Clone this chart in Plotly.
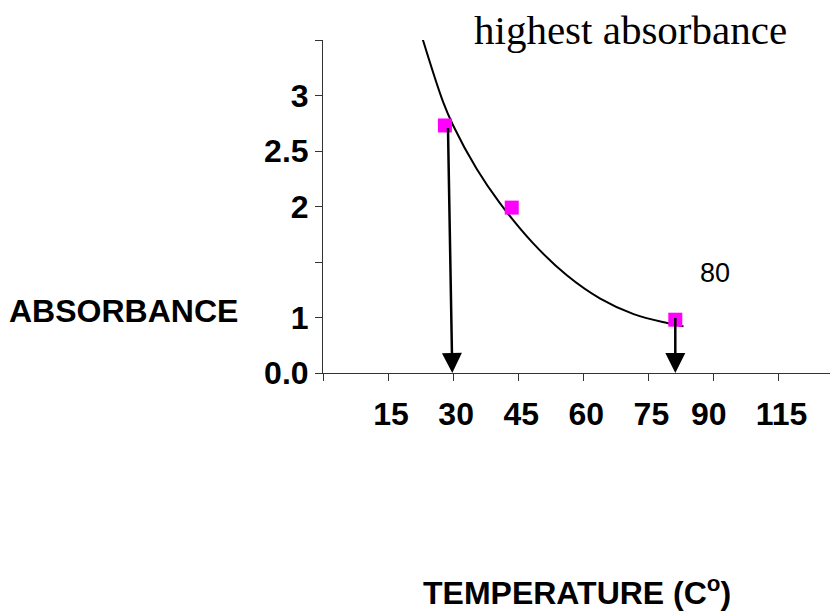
import plotly.graph_objects as go

# Measured data points (temperature, absorbance)
temperature = [28.1, 43.5, 81.2]
absorbance = [2.73, 1.99, 0.98]

# Trend curve
trend_temp = [22.8, 27.7, 30.0, 35.4, 40.6, 48.4, 56.2, 63.9, 71.6, 79.3, 83.1]
trend_abs = [3.53, 2.94, 2.73, 2.34, 2.04, 1.67, 1.38, 1.17, 1.03, 0.95, 0.92]

# Arrows (tail -> head)
arrow_from_temp = [28.8, 81.2]
arrow_from_abs = [2.72, 1.01]
arrow_to_temp = [29.8, 81.2]
arrow_to_abs = [0.5, 0.5]

# Axis ticks
x_tickvals = [0, 15, 30, 45, 60, 75, 90, 105]
x_ticktext = ["", "15", "30", "45", "60", "75", "90\u00a0\u2009", "115"]
y_tickvals = [0.5, 1, 1.5, 2, 2.5, 3, 3.5]
y_ticktext = ["0.0", "1", "", "2", "2.5", "3", ""]

SANS = "Arial, Liberation Sans, sans-serif"
SERIF = "Times New Roman, Liberation Serif, serif"

fig = go.Figure()
fig.add_trace(go.Scatter(
    x=trend_temp, y=trend_abs, mode="lines",
    line=dict(color="black", width=2, shape="spline", smoothing=1.0),
    hoverinfo="skip", showlegend=False,
))
fig.add_trace(go.Scatter(
    x=temperature, y=absorbance, mode="markers",
    marker=dict(symbol="square", size=14, color="#FF00FF", line=dict(width=0)),
    showlegend=False,
))

for fx, fy, tx, ty in zip(arrow_from_temp, arrow_from_abs, arrow_to_temp, arrow_to_abs):
    fig.add_annotation(
        x=tx, y=ty, ax=fx, ay=fy, xref="x", yref="y", axref="x", ayref="y",
        text="", showarrow=True, arrowhead=2, arrowsize=1.6, arrowwidth=2.5,
        arrowcolor="black", standoff=0, startstandoff=0,
    )

fig.add_annotation(
    text="highest absorbance", xref="paper", yref="paper", x=0.598, y=1.03,
    xanchor="center", yanchor="middle", showarrow=False,
    font=dict(family=SERIF, size=41, color="black"),
)
fig.add_annotation(
    text="ABSORBANCE", xref="paper", yref="paper", x=-0.3878, y=0.1848,
    xanchor="center", yanchor="middle", showarrow=False,
    font=dict(family=SANS, size=32, color="black", weight="bold"),
)
fig.add_annotation(
    text="TEMPERATURE (C<sup>o</sup>)", xref="paper", yref="paper", x=0.494, y=-0.656,
    xanchor="center", yanchor="middle", showarrow=False,
    font=dict(family=SANS, size=32, color="black", weight="bold"),
)
fig.add_annotation(
    text="80", xref="paper", yref="paper", x=0.762, y=0.301,
    xanchor="center", yanchor="middle", showarrow=False,
    font=dict(family=SANS, size=27, color="black"),
)

fig.update_layout(
    width=830, height=603,
    margin=dict(l=315, r=0, t=32, b=238),
    paper_bgcolor="white", plot_bgcolor="white",
    showlegend=False,
)
fig.update_xaxes(
    range=[0, 118.7], showgrid=False, zeroline=False,
    showline=True, linecolor="#333333", linewidth=1,
    ticks="outside", ticklen=7, tickcolor="#333333", tickwidth=1,
    tickmode="array", tickvals=x_tickvals, ticktext=x_ticktext,
    tickfont=dict(family=SANS, size=32, color="black", weight="bold"),
    ticklabelshift=3, ticklabelstandoff=6,
)
fig.update_yaxes(
    range=[0.5, 3.5], showgrid=False, zeroline=False,
    showline=True, linecolor="#333333", linewidth=1,
    ticks="outside", ticklen=7, tickcolor="#333333", tickwidth=1,
    tickmode="array", tickvals=y_tickvals, ticktext=y_ticktext,
    tickfont=dict(family=SANS, size=32, color="black", weight="bold"),
)

fig.write_html("out.html")
